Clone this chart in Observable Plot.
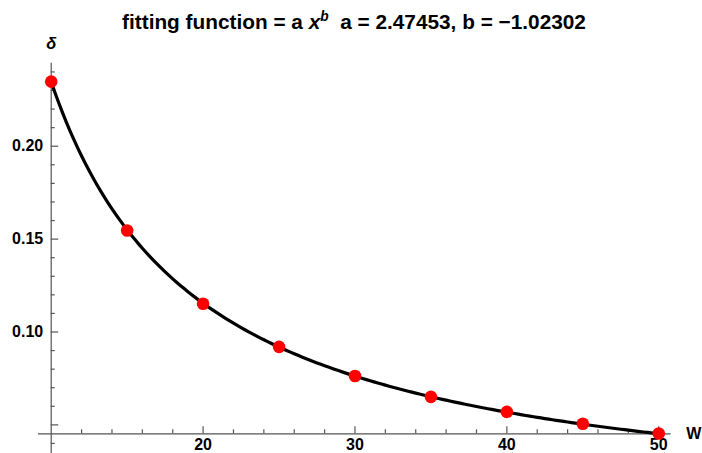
<!DOCTYPE html>
<html>
<head>
<meta charset="utf-8">
<script src="https://cdn.jsdelivr.net/npm/d3@7"></script>
<script src="https://cdn.jsdelivr.net/npm/@observablehq/plot@0.6"></script>
<style>
  html, body { margin: 0; padding: 0; background: #fff; }
  #wrap { width: 702px; height: 453px; overflow: hidden; font-family: "Liberation Sans", Arial, sans-serif; }
  #title { box-sizing: border-box; height: 36px; padding-top: 11.5px; padding-left: 6px; line-height: 1; text-align: center; font-weight: bold; font-size: 20.8px; color: #000; white-space: nowrap; }
  #title sup { font-size: 0.66em; line-height: 0; vertical-align: 0.6em; font-style: italic; }
  #chart svg { display: block; overflow: visible; }
</style>
</head>
<body>
<div id="wrap">
  <div id="title">fitting function = a <i>x</i><sup>b</sup>&nbsp;&nbsp;a = 2.47453, b = −1.02302</div>
  <div id="chart"></div>
</div>
<script>
// Data
const W = [10, 15, 20, 25, 30, 35, 40, 45, 50];
const delta = [0.2348, 0.1546, 0.1152, 0.0920, 0.0763, 0.0651, 0.0570, 0.0506, 0.0454];

// Fit parameters stated in the title (curve = a * x^b)
const fitA = 2.47453;
const fitB = -1.02302;

// Tick values
const xMajorTicks = [20, 30, 40, 50];
const xMinorTicks = [12, 14, 16, 18, 22, 24, 26, 28, 32, 34, 36, 38, 42, 44, 46, 48];
const yMajorTicks = [0.05, 0.10, 0.15, 0.20];
const yMinorTicks = [0.04, 0.06, 0.07, 0.08, 0.09, 0.11, 0.12, 0.13, 0.14, 0.16, 0.17, 0.18, 0.19, 0.21, 0.22, 0.23, 0.24];
const yLabelTicks = [0.10, 0.15, 0.20];
const xLabel = "W";
const yLabel = "δ";

// Axes origin (Mathematica places axes at x = 10 and at the curve minimum)
const originX = 10;
const originY = 0.0452;

const points = W.map((w, i) => ({w, d: delta[i]}));
const curve = d3.range(10, 50.0001, 0.25).map(x => ({x, y: fitA * Math.pow(x, fitB)}));

const axisColor = "#555";
const font = "'Liberation Sans', Arial, sans-serif";

const chart = Plot.plot({
  width: 702,
  height: 417,
  marginTop: 26.7,
  marginBottom: 19.7,
  marginLeft: 38,
  marginRight: 31.3,
  x: {domain: [9.163, 50.82], axis: null},
  y: {domain: [originY, 0.2447], axis: null},
  style: {fontFamily: font, background: "#fff", overflow: "visible"},
  marks: [
    // x axis line
    Plot.ruleY([originY], {stroke: axisColor, strokeWidth: 1.2}),
    // y axis line (extends below the x axis)
    Plot.ruleX([originX], {y1: () => 0.0346, y2: () => 0.2447, stroke: axisColor, strokeWidth: 1.2}),
    // x ticks (upward)
    Plot.ruleX(xMinorTicks, {x: d => d, y1: () => originY, y2: () => originY, insetBottom: 4, stroke: axisColor, strokeWidth: 1.2}),
    Plot.ruleX(xMajorTicks, {x: d => d, y1: () => originY, y2: () => originY, insetBottom: 7, stroke: axisColor, strokeWidth: 1.2}),
    // y ticks (rightward)
    Plot.ruleY(yMinorTicks, {y: d => d, x1: () => originX, x2: () => originX, insetRight: -4, stroke: axisColor, strokeWidth: 1.2}),
    Plot.ruleY(yMajorTicks, {y: d => d, x1: () => originX, x2: () => originX, insetRight: -7.5, stroke: axisColor, strokeWidth: 1.2}),
    // tick labels
    Plot.text(xMajorTicks, {x: d => d, y: () => originY, text: d => String(d), lineAnchor: "bottom", dy: 16.5, fontSize: 16, fontWeight: "bold", fill: "#000"}),
    Plot.text(yLabelTicks, {x: () => originX, y: d => d, text: d => d.toFixed(2), textAnchor: "end", dx: -8, fontSize: 16, fontWeight: "bold", fill: "#000"}),
    // axis labels
    Plot.text([yLabel], {x: () => originX, y: () => 0.2447, text: d => d, lineAnchor: "bottom", dy: -14.4, fontSize: 16.5, fontWeight: "bold", fontStyle: "italic", fill: "#000"}),
    Plot.text([xLabel], {x: () => 50.82, y: () => originY, text: d => d, textAnchor: "start", lineAnchor: "bottom", dx: 15, dy: 5, fontSize: 16, fontWeight: "bold", fill: "#000"}),
    // fitted curve
    Plot.line(curve, {x: "x", y: "y", stroke: "#000", strokeWidth: 3.2, curve: "linear"}),
    // data points
    Plot.dot(points, {x: "w", y: "d", r: 6.3, fill: "#ff0000", stroke: "none"})
  ]
});
document.getElementById("chart").appendChild(chart);
</script>
</body>
</html>
